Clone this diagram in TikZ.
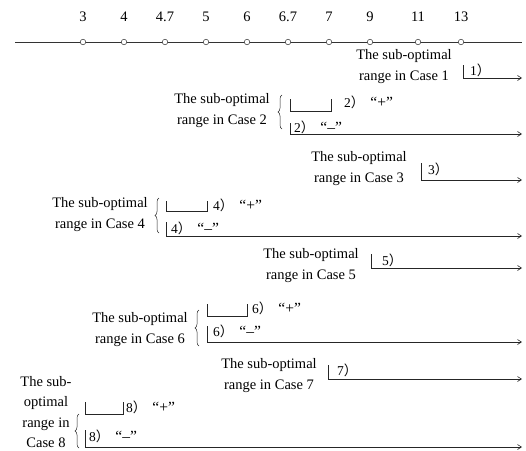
\documentclass[tikz,border=0pt]{standalone}
\usepackage{fontspec}
\setmainfont{Liberation Serif}
\newfontfamily\cjk{Noto Sans CJK SC}
\usetikzlibrary{arrows.meta,decorations.pathreplacing}
\newcommand\caselab[2]{#1{\cjk ）}\hspace{6pt}{\fontsize{15.5}{15.5}\selectfont “#2”}}
\newcommand\onelab[1]{#1{\cjk ）}}
\begin{document}
\begin{tikzpicture}[x=1pt,y=1pt,
  axisline/.style={line width=0.6pt,black!80},
  tickdot/.style={circle,draw=black!80,fill=white,line width=0.5pt,minimum size=5.5pt,inner sep=0pt},
  ticklab/.style={font=\fontsize{14.5}{16}\selectfont,inner sep=0pt},
  casetxt/.style={align=center,font=\fontsize{14.5}{21}\selectfont,inner sep=0pt},
  numlab/.style={anchor=west,font=\fontsize{13.5}{15}\selectfont,inner sep=0pt},
  brk/.style={line width=0.6pt,black!85},
  arr/.style={line width=0.6pt,black!85,-{Straight Barb[length=4pt,width=5pt]}},
  bracestyle/.style={line width=0.5pt,black!85,decorate,decoration={brace,amplitude=4pt}}]
\useasboundingbox (0,0) rectangle (526,-450);
% axis
\coordinate (axL) at (15,-42);
\coordinate (axR) at (522,-42);
\draw[axisline] (axL) -- (axR);
\foreach \n/\x/\v in {1/83/3,2/124/4,3/165/4.7,4/206/5,5/247/6,6/288/6.7,7/329/7,8/370/9,9/418/11,10/461/13}{
  \node[tickdot] (t\n) at (\x,-42) {};
  \node[ticklab] (v\n) at (\x,-17) {\v};
}
% Case 1
\node[casetxt] (c1) at (404,-67) {The sub-optimal\\range in Case 1};
\coordinate (a1) at (463,-65); \coordinate (b1) at (463,-78); \coordinate (e1) at (522,-78);
\draw[arr] (a1) -- (b1) -- (e1);
\node[numlab] (l1) at (470,-70) {\onelab{1}};
% Case 2
\node[casetxt] (c2) at (222,-111) {The sub-optimal\\range in Case 2};
\draw[bracestyle] (282,-129) -- (282,-95);
\coordinate (p2a) at (290,-99); \coordinate (p2b) at (290,-111);
\coordinate (p2c) at (331,-111); \coordinate (p2d) at (331,-99);
\draw[brk] (p2a) -- (p2b) -- (p2c) -- (p2d);
\node[numlab] (l2p) at (344,-102) {\caselab{2}{+}};
\coordinate (m2a) at (290,-123); \coordinate (m2b) at (290,-134); \coordinate (m2e) at (522,-134);
\draw[arr] (m2a) -- (m2b) -- (m2e);
\node[numlab] (l2m) at (294,-127) {\caselab{2}{–}};
% Case 3
\node[casetxt] (c3) at (359,-169) {The sub-optimal\\range in Case 3};
\coordinate (a3) at (421,-163); \coordinate (b3) at (421,-180); \coordinate (e3) at (522,-180);
\draw[arr] (a3) -- (b3) -- (e3);
\node[numlab] (l3) at (428,-169) {\onelab{3}};
% Case 4
\node[casetxt] (c4) at (100,-215) {The sub-optimal\\range in Case 4};
\draw[bracestyle] (159,-233) -- (159,-198);
\coordinate (p4a) at (166,-201); \coordinate (p4b) at (166,-211);
\coordinate (p4c) at (207,-211); \coordinate (p4d) at (207,-201);
\draw[brk] (p4a) -- (p4b) -- (p4c) -- (p4d);
\node[numlab] (l4p) at (213,-205) {\caselab{4}{+}};
\coordinate (m4a) at (166,-222); \coordinate (m4b) at (166,-236); \coordinate (m4e) at (522,-236);
\draw[arr] (m4a) -- (m4b) -- (m4e);
\node[numlab] (l4m) at (171,-228) {\caselab{4}{–}};
% Case 5
\node[casetxt] (c5) at (311,-266) {The sub-optimal\\range in Case 5};
\coordinate (a5) at (371,-254); \coordinate (b5) at (371,-268); \coordinate (e5) at (522,-268);
\draw[arr] (a5) -- (b5) -- (e5);
\node[numlab] (l5) at (382,-260) {\onelab{5}};
% Case 6
\node[casetxt] (c6) at (140,-330) {The sub-optimal\\range in Case 6};
\draw[bracestyle] (199,-346) -- (199,-310);
\coordinate (p6a) at (207,-304); \coordinate (p6b) at (207,-316);
\coordinate (p6c) at (247,-316); \coordinate (p6d) at (247,-304);
\draw[brk] (p6a) -- (p6b) -- (p6c) -- (p6d);
\node[numlab] (l6p) at (252,-308) {\caselab{6}{+}};
\coordinate (m6a) at (207,-326); \coordinate (m6b) at (207,-342); \coordinate (m6e) at (522,-342);
\draw[arr] (m6a) -- (m6b) -- (m6e);
\node[numlab] (l6m) at (213,-331) {\caselab{6}{–}};
% Case 7
\node[casetxt] (c7) at (269,-376) {The sub-optimal\\range in Case 7};
\coordinate (a7) at (328,-365); \coordinate (b7) at (328,-379); \coordinate (e7) at (522,-379);
\draw[arr] (a7) -- (b7) -- (e7);
\node[numlab] (l7) at (337,-370) {\onelab{7}};
% Case 8
\node[casetxt,font=\fontsize{14.5}{20.5}\selectfont] (c8) at (46,-412) {The sub-\\optimal\\range in\\Case 8};
\draw[bracestyle] (79,-448) -- (79,-414);
\coordinate (p8a) at (85,-402); \coordinate (p8b) at (85,-414);
\coordinate (p8c) at (123,-414); \coordinate (p8d) at (123,-402);
\draw[brk] (p8a) -- (p8b) -- (p8c) -- (p8d);
\node[numlab] (l8p) at (126,-407) {\caselab{8}{+}};
\coordinate (m8a) at (85,-430); \coordinate (m8b) at (85,-447); \coordinate (m8e) at (522,-447);
\draw[arr] (m8a) -- (m8b) -- (m8e);
\node[numlab] (l8m) at (89,-436) {\caselab{8}{–}};
\end{tikzpicture}
\end{document}
